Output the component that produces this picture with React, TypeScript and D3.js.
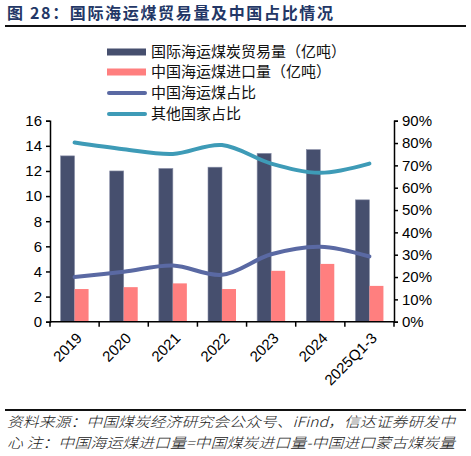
import React, { useEffect, useRef } from 'react';
import * as d3 from 'd3';

// data
const categories = ['2019', '2020', '2021', '2022', '2023', '2024', '2025Q1-3'];
const worldTrade = [13.2, 12.0, 12.2, 12.3, 13.4, 13.7, 9.7];
const chinaImport = [2.6, 2.75, 3.05, 2.6, 4.05, 4.6, 2.85];
const chinaShare = [0.2, 0.224, 0.252, 0.21, 0.302, 0.336, 0.292];
const otherShare = [0.802, 0.772, 0.751, 0.791, 0.708, 0.667, 0.708];
const leftTicks = [0, 2, 4, 6, 8, 10, 12, 14, 16];
const rightTicks = [0, 0.1, 0.2, 0.3, 0.4, 0.5, 0.6, 0.7, 0.8, 0.9];

const legendItems = [
  { label: '国际海运煤炭贸易量（亿吨）', color: '#464F6E', type: 'bar' },
  { label: '中国海运煤进口量（亿吨）', color: '#FF7F7F', type: 'bar' },
  { label: '中国海运煤占比', color: '#5A69A3', type: 'line' },
  { label: '其他国家占比', color: '#3E9BB7', type: 'line' },
];

const App = () => {
  const svgRef = useRef(null);

  useEffect(() => {
    const width = 471;
    const height = 456;
    const left = 50;
    const right = 394;
    const top = 120.7;
    const bottom = 321.7;
    const sans = '"Liberation Sans", Arial, "Noto Sans CJK SC", sans-serif';
    const cjk = '"Noto Sans CJK SC", "Liberation Sans", sans-serif';

    const svg = d3.select(svgRef.current)
      .attr('width', width)
      .attr('height', height);
    svg.selectAll('*').remove();

    // title
    svg.append('text')
      .attr('x', 7)
      .attr('y', 19)
      .attr('font-family', cjk)
      .attr('font-size', 16)
      .attr('font-weight', 600)
      .attr('fill', '#233766')
      .attr('textLength', 326)
      .attr('lengthAdjust', 'spacing')
      .text('图 28：国际海运煤贸易量及中国占比情况');
    svg.append('line')
      .attr('x1', 5).attr('x2', 466)
      .attr('y1', 26).attr('y2', 26)
      .attr('stroke', '#111').attr('stroke-width', 2);

    const x = d3.scaleBand().domain(categories).range([left, right]);
    const yL = d3.scaleLinear().domain([0, 16]).range([bottom, top]);
    const yR = d3.scaleLinear().domain([0, 0.9]).range([bottom, top]);
    const barW = 14;

    // bars
    svg.append('g').selectAll('rect')
      .data(worldTrade)
      .enter()
      .append('rect')
      .attr('x', (d, i) => x(categories[i]) + x.bandwidth() / 2 - barW)
      .attr('y', (d) => yL(d))
      .attr('width', barW)
      .attr('height', (d) => bottom - yL(d))
      .attr('fill', legendItems[0].color)
      .attr('stroke', '#8a90a8')
      .attr('stroke-width', 0.6);

    svg.append('g').selectAll('rect')
      .data(chinaImport)
      .enter()
      .append('rect')
      .attr('x', (d, i) => x(categories[i]) + x.bandwidth() / 2)
      .attr('y', (d) => yL(d))
      .attr('width', barW)
      .attr('height', (d) => bottom - yL(d))
      .attr('fill', legendItems[1].color);

    // lines
    const line = d3.line()
      .x((d, i) => x(categories[i]) + x.bandwidth() / 2)
      .y((d) => yR(d))
      .curve(d3.curveCatmullRom.alpha(0.5));

    [chinaShare, otherShare].forEach((series, k) => {
      svg.append('path')
        .attr('d', line(series))
        .attr('fill', 'none')
        .attr('stroke', legendItems[k + 2].color)
        .attr('stroke-width', 4)
        .attr('stroke-linecap', 'round');
    });

    // left axis
    const gl = svg.append('g')
      .attr('transform', `translate(${left},0)`)
      .call(d3.axisLeft(yL).tickValues(leftTicks).tickSize(4).tickSizeOuter(4).tickPadding(4));
    gl.selectAll('text').attr('font-family', sans).attr('font-size', 15).attr('fill', '#000');

    // right axis
    const gr = svg.append('g')
      .attr('transform', `translate(${right},0)`)
      .call(d3.axisRight(yR).tickValues(rightTicks).tickSize(4).tickSizeOuter(4).tickPadding(4)
        .tickFormat(d3.format('.0%')));
    gr.selectAll('text').attr('font-family', sans).attr('font-size', 15).attr('fill', '#000');

    [gl, gr].forEach((g) => {
      g.selectAll('path, line').attr('stroke', '#000').attr('stroke-width', 1.5);
    });

    // x axis
    const gx = svg.append('g');
    gx.append('line')
      .attr('x1', left).attr('x2', right)
      .attr('y1', bottom).attr('y2', bottom)
      .attr('stroke', '#000').attr('stroke-width', 1.5);
    gx.selectAll('line.tick')
      .data([...categories.map((c) => x(c)), right])
      .enter()
      .append('line')
      .attr('class', 'tick')
      .attr('x1', (d) => d).attr('x2', (d) => d)
      .attr('y1', bottom).attr('y2', bottom + 5)
      .attr('stroke', '#000').attr('stroke-width', 1.5);
    gx.selectAll('text')
      .data(categories)
      .enter()
      .append('text')
      .attr('transform', (d) => `translate(${x(d) + x.bandwidth() / 2 + 1},${bottom + 10}) rotate(-45)`)
      .attr('text-anchor', 'end')
      .attr('dy', '0.7em')
      .attr('font-family', sans)
      .attr('font-size', 15)
      .attr('fill', '#000')
      .text((d) => d);

    // legend
    const lg = svg.append('g').attr('transform', 'translate(107,0)');
    legendItems.forEach((item, i) => {
      const cy = [52, 72, 93, 114][i];
      if (item.type === 'bar') {
        lg.append('rect')
          .attr('x', 0).attr('y', cy - 3.5)
          .attr('width', 39).attr('height', 7)
          .attr('fill', item.color);
      } else {
        lg.append('line')
          .attr('x1', 2).attr('x2', 38)
          .attr('y1', cy).attr('y2', cy)
          .attr('stroke', item.color).attr('stroke-width', 4)
          .attr('stroke-linecap', 'round');
      }
      lg.append('text')
        .attr('x', 44).attr('y', cy)
        .attr('dy', '0.36em')
        .attr('font-family', cjk)
        .attr('font-size', 15)
        .attr('fill', '#111')
        .text(item.label);
    });

    // footer
    svg.append('line')
      .attr('x1', 5).attr('x2', 466)
      .attr('y1', 410).attr('y2', 410)
      .attr('stroke', '#111').attr('stroke-width', 2);
    const notes = [
      '资料来源：中国煤炭经济研究会公众号、iFind，信达证券研发中',
      '心 注：中国海运煤进口量=中国煤炭进口量-中国进口蒙古煤炭量',
    ];
    notes.forEach((t, i) => {
      svg.append('text')
        .attr('x', 7).attr('y', 427 + i * 21)
        .attr('font-family', cjk)
        .attr('font-size', 14)
        .attr('font-style', 'italic')
        .attr('font-weight', 300)
        .attr('fill', '#222')
        .attr('textLength', 448)
        .attr('lengthAdjust', 'spacingAndGlyphs')
        .text(t);
    });
  }, []);

  return (
    <svg ref={svgRef} style={{ position: 'absolute', left: 0, top: 0 }}></svg>
  );
};

export default App;
